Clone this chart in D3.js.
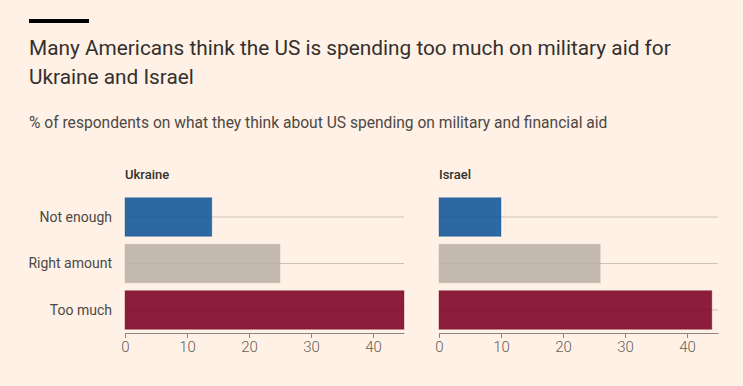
<!DOCTYPE html>
<html>
<head>
<meta charset="utf-8">
<script src="https://cdn.jsdelivr.net/npm/d3@7"></script>
<style>
  body { margin: 0; background: #fff1e5; }
  svg text { font-family: Roboto, "Noto Sans", sans-serif; }
</style>
</head>
<body>
<svg id="chart" width="743" height="386"></svg>
<script>
var categories = ['Not enough', 'Right amount', 'Too much'];
var panels = ['Ukraine', 'Israel'];
var ukraineValues = [14, 25, 45];
var israelValues = [10, 26, 44];
var ticks = [0, 10, 20, 30, 40];
var colors = ['#0f5499', '#bcb0a6', '#7d0023'];

var svg = d3.select('#chart');
svg.append('rect').attr('width', 743).attr('height', 386).attr('fill', '#fff1e5');

// header
svg.append('rect').attr('x', 29).attr('y', 19).attr('width', 60).attr('height', 4).attr('fill', '#000');
var title = svg.append('text').attr('x', 29).attr('y', 55)
    .attr('fill', '#33302e').style('font-size', '20.8px');
title.append('tspan').attr('x', 29).text('Many Americans think the US is spending too much on military aid for');
title.append('tspan').attr('x', 29).attr('dy', 29).text('Ukraine and Israel');
svg.append('text').attr('x', 29).attr('y', 128)
    .attr('fill', '#4d4845').style('font-size', '15.6px')
    .text('% of respondents on what they think about US spending on military and financial aid');

var data = [ukraineValues, israelValues];
var panelX = [[125, 404], [439, 718]];

var y = d3.scaleBand().domain(categories).range([194, 333]).paddingInner(0.17).paddingOuter(0.08);

panels.forEach(function(name, p){
    var x = d3.scaleLinear().domain([0, 45]).range(panelX[p]);
    var g = svg.append('g').attr('class', 'panel');

    g.append('text').attr('x', x(0)).attr('y', 179)
        .attr('fill', '#33302e').style('font-size', '13px').style('font-weight', 500)
        .text(name);

    // gridlines through the bar centres
    g.selectAll('.grid').data(categories).enter().append('line')
        .attr('x1', x(0)).attr('x2', x(45))
        .attr('y1', function(d){ return y(d) + y.bandwidth()/2; })
        .attr('y2', function(d){ return y(d) + y.bandwidth()/2; })
        .attr('stroke', '#ccc1b7').attr('stroke-width', 1);

    g.selectAll('.bar').data(data[p]).enter().append('rect')
        .attr('x', x(0))
        .attr('y', function(d,i){ return y(categories[i]); })
        .attr('width', function(d){ return x(d) - x(0); })
        .attr('height', y.bandwidth())
        .attr('fill', function(d,i){ return colors[i]; })
        .attr('fill-opacity', 0.88)
        .attr('stroke', function(d,i){ return colors[i]; })
        .attr('stroke-opacity', 0.35);

    if (p == 0){
        g.selectAll('.cat').data(categories).enter().append('text')
            .attr('x', 112)
            .attr('y', function(d){ return y(d) + y.bandwidth()/2; })
            .attr('dy', '0.35em').attr('text-anchor', 'end')
            .attr('fill', '#4d4845').style('font-size', '14px')
            .text(function(d){ return d; });
    }

    var axis = g.append('g').attr('transform', 'translate(0,333)')
        .call(d3.axisBottom(x).tickValues(ticks).tickSize(5).tickSizeOuter(0).tickPadding(3));
    axis.select('.domain').attr('stroke', '#8f8580');
    axis.selectAll('.tick line').attr('stroke', '#8f8580');
    axis.selectAll('.tick text').attr('fill', '#66605c').style('font-size', '15px')
        .style('font-family', 'Roboto, "Noto Sans", sans-serif').style('font-weight', 300);
});
</script>
</body>
</html>
